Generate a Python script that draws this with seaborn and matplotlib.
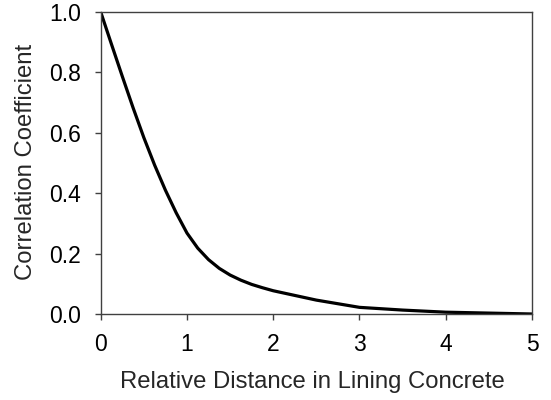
import matplotlib
matplotlib.use("Agg")
import matplotlib.pyplot as plt
import seaborn as sns
import pandas as pd

distance = [0.0, 0.125, 0.25, 0.375, 0.5, 0.625, 0.75, 0.875, 1.0, 1.125, 1.25, 1.375,
            1.5, 1.625, 1.75, 1.875, 2.0, 2.5, 3.0, 3.5, 4.0, 4.5, 5.0]
correlation = [1.0, 0.893, 0.787, 0.683, 0.584, 0.493, 0.41, 0.335, 0.268, 0.218, 0.180, 0.151,
               0.129, 0.112, 0.098, 0.087, 0.077, 0.046, 0.022, 0.013, 0.006, 0.003, 0.0]

xticks = [0, 1, 2, 3, 4, 5]
yticks = [0.0, 0.2, 0.4, 0.6, 0.8, 1.0]

sns.set_theme(style="ticks")
plt.rcParams['font.family'] = ['Liberation Sans', 'DejaVu Sans']

df = pd.DataFrame({"x": distance, "y": correlation})

fig = plt.figure(figsize=(5.51, 4.0), dpi=100)
ax = fig.add_axes([0.1828, 0.215, 0.9655 - 0.1828, 0.97 - 0.215])
sns.lineplot(data=df, x="x", y="y", ax=ax, color="black", linewidth=2.3)

ax.set_xlim(0, 5)
ax.set_ylim(0, 1)
ax.set_xticks(xticks)
ax.set_xticklabels([str(t) for t in xticks])
ax.set_yticks(yticks)
ax.set_yticklabels([f"{t:.1f}" for t in yticks])
ax.tick_params(axis="both", direction="out", length=4, width=1, colors="#404040",
               labelcolor="black", labelsize=16.5)
ax.tick_params(axis="x", pad=10)
ax.tick_params(axis="y", pad=10)
for s in ax.spines.values():
    s.set_visible(True)
    s.set_color("#404040")
    s.set_linewidth(1)
ax.set_xlabel("Relative Distance in Lining Concrete", fontsize=17.2)
ax.set_ylabel("Correlation Coefficient", fontsize=17.2)
ax.xaxis.set_label_coords(0.49, -0.19)
ax.yaxis.set_label_coords(-0.148, 0.505)

fig.savefig("out.png", dpi=100)
